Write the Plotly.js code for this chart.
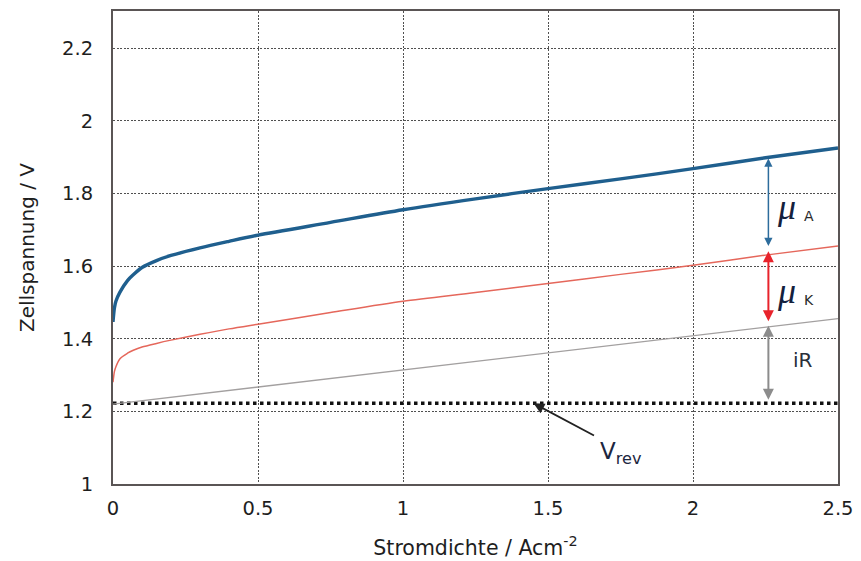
<!DOCTYPE html>
<html>
<head>
<meta charset="utf-8">
<script src="https://cdn.plot.ly/plotly-3.0.1.min.js"></script>
<style>html,body{margin:0;padding:0;background:#fff;}#chart{width:861px;height:561px;}</style>
</head>
<body>
<div id="chart"></div>
<script>
// Current density (A/cm²) sample points
const anodeX = [0, 0.005, 0.01, 0.024, 0.05, 0.07, 0.1, 0.15, 0.2, 0.3, 0.4, 0.5, 0.75, 1, 1.25, 1.5, 1.75, 2, 2.25, 2.5];
const anodeY = [1.446, 1.485, 1.503, 1.528, 1.56, 1.576, 1.596, 1.615, 1.629, 1.65, 1.668, 1.685, 1.72, 1.755, 1.785, 1.813, 1.84, 1.868, 1.898, 1.925];
const kathodeX = [0, 0.005, 0.01, 0.024, 0.05, 0.07, 0.1, 0.15, 0.2, 0.3, 0.4, 0.5, 0.75, 1, 1.25, 1.5, 1.75, 2, 2.25, 2.5];
const kathodeY = [1.28, 1.31, 1.323, 1.345, 1.36, 1.368, 1.377, 1.387, 1.396, 1.412, 1.427, 1.44, 1.472, 1.503, 1.527, 1.552, 1.577, 1.602, 1.63, 1.655];
const ohmX = [0, 0.5, 1, 1.5, 2, 2.5];
const ohmY = [1.22, 1.267, 1.313, 1.36, 1.408, 1.455];
const vrevX = [0, 2.5];
const vrevY = [1.222, 1.222];
// Overvoltage arrows at x = 2.26: [top, bottom]
const arrowX = 2.26;
const muAArrow = [1.9, 1.655];
const muKArrow = [1.645, 1.448];
const iRArrow = [1.44, 1.232];
const vrevPoint = [1.45, 1.222];
const xTicks = [0, 0.5, 1, 1.5, 2, 2.5];
const xTickText = ['0', '0.5', '1', '1.5', '2', '2.5'];
const yTicks = [1, 1.2, 1.4, 1.6, 1.8, 2, 2.2];
const yTickText = ['1', '1.2', '1.4', '1.6', '1.8', '2', '2.2'];
// Label anchors (data coordinates)
const muALabel = [2.322, 1.762];
const aSub = [2.40, 1.738];
const muKLabel = [2.322, 1.532];
const kSub = [2.40, 1.506];
const iRLabel = [2.379, 1.341];
const vrevLabel = [1.75, 1.085];

const FONT = 'DejaVu Sans, sans-serif';

const traces = [
  {x: vrevX, y: vrevY, mode: 'lines', line: {color: '#111', width: 3.5, dash: '3.5px,3.5px'}, hoverinfo: 'skip'},
  {x: ohmX, y: ohmY, mode: 'lines', line: {color: '#a3a0a0', width: 1.3}},
  {x: kathodeX, y: kathodeY, mode: 'lines', line: {color: '#e5675b', width: 1.5, shape: 'spline', smoothing: 0.8}},
  {x: anodeX, y: anodeY, mode: 'lines', line: {color: '#1f5f8e', width: 3.4, shape: 'spline', smoothing: 0.8}}
];

function dbl(top, bottom, color, w) {
  return {x: arrowX, y: bottom, ax: arrowX, ay: top, axref: 'x', ayref: 'y', xref: 'x', yref: 'y',
    text: '', showarrow: true, arrowside: 'end+start', arrowhead: 2, startarrowhead: 2,
    arrowsize: 1.1, startarrowsize: 1.1, arrowwidth: w, arrowcolor: color, standoff: 0, startstandoff: 0};
}
function lbl(pos, text, font) {
  return {x: pos[0], y: pos[1], xref: 'x', yref: 'y', xanchor: 'center', yanchor: 'middle',
    showarrow: false, text: text, font: font};
}

const annotations = [
  dbl(muAArrow[0], muAArrow[1], '#2d6c9c', 1.5),
  dbl(muKArrow[0], muKArrow[1], '#e8232b', 2),
  dbl(iRArrow[0], iRArrow[1], '#8c8c8c', 2),
  lbl(muALabel, '<i>μ</i>', {family: 'Liberation Serif, serif', size: 36, color: '#14213d'}),
  lbl(aSub, 'A', {family: FONT, size: 14, color: '#2a2a2a'}),
  lbl(muKLabel, '<i>μ</i>', {family: 'Liberation Serif, serif', size: 36, color: '#14213d'}),
  lbl(kSub, 'K', {family: FONT, size: 14, color: '#2a2a2a'}),
  lbl(iRLabel, 'iR', {family: FONT, size: 20, color: '#2a2f3a'}),
  {x: vrevPoint[0], y: vrevPoint[1], xref: 'x', yref: 'y', text: '', showarrow: true, arrowhead: 2,
   arrowsize: 1.2, arrowwidth: 1.8, arrowcolor: '#222', ax: 62, ay: 33, standoff: 0},
  lbl(vrevLabel, 'V<sub>rev</sub>', {family: FONT, size: 23, color: '#1c2640'})
];

const layout = {
  width: 861, height: 561,
  margin: {l: 113, r: 23, t: 11, b: 77},
  paper_bgcolor: '#fff', plot_bgcolor: '#fff',
  showlegend: false,
  font: {family: FONT, color: '#222'},
  xaxis: {
    range: [0, 2.5], tickvals: xTicks, ticktext: xTickText,
    showgrid: true, gridcolor: '#505050', griddash: '2px,1.5px', gridwidth: 1,
    zeroline: false, showline: true, linecolor: '#5a5555', linewidth: 2, mirror: true,
    ticks: '', ticklabelstandoff: 6,
    tickfont: {size: 19.5, color: '#1e1e1e'},
    title: {text: 'Stromdichte / Acm<sup>-2</sup>', font: {size: 20.5, color: '#1e1e1e'}, standoff: 21}
  },
  yaxis: {
    range: [1, 2.302], tickvals: yTicks, ticktext: yTickText,
    showgrid: true, gridcolor: '#505050', griddash: '2px,1.5px', gridwidth: 1,
    zeroline: false, showline: true, linecolor: '#5a5555', linewidth: 2, mirror: true,
    ticks: '', ticklabelstandoff: 14,
    tickfont: {size: 19.5, color: '#1e1e1e'},
    title: {text: 'Zellspannung / V', font: {size: 20, color: '#1e1e1e'}, standoff: 22}
  },
  annotations: annotations
};

Plotly.newPlot('chart', traces, layout, {displayModeBar: false, staticPlot: true});
</script>
</body>
</html>
